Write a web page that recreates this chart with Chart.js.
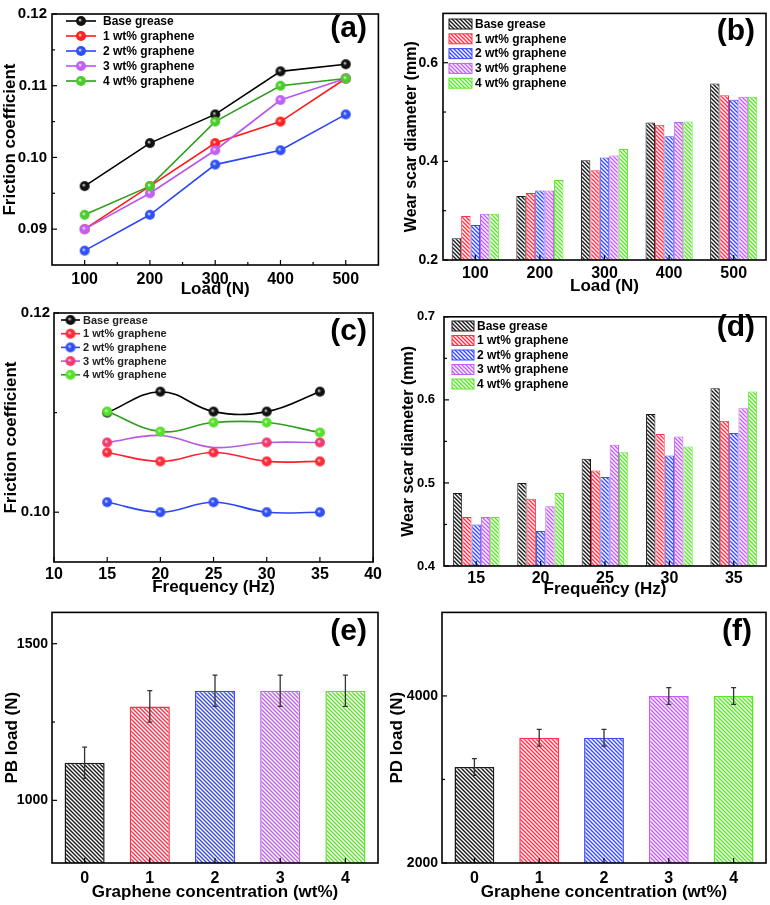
<!DOCTYPE html>
<html>
<head>
<meta charset="utf-8">
<title>Graphene grease tribology</title>
<script src="https://cdn.jsdelivr.net/npm/chart.js@4.4.1/dist/chart.umd.min.js"></script>
<style>
  body { margin: 0; background: #fff; }
  #fig { position: relative; width: 770px; height: 905px; overflow: hidden; }
  #fig canvas { position: absolute; }
</style>
</head>
<body>
<div id="fig">
  <canvas id="ca" width="385" height="300" style="left:0;top:0"></canvas>
  <canvas id="cb" width="385" height="300" style="left:385px;top:0"></canvas>
  <canvas id="cc" width="385" height="300" style="left:0;top:300px"></canvas>
  <canvas id="cd" width="385" height="300" style="left:385px;top:300px"></canvas>
  <canvas id="ce" width="385" height="305" style="left:0;top:600px"></canvas>
  <canvas id="cf" width="385" height="305" style="left:385px;top:600px"></canvas>
</div>
<script>
// ---- data ----
const seriesNames = ['Base grease', '1 wt% graphene', '2 wt% graphene', '3 wt% graphene', '4 wt% graphene'];
const loads = [100, 200, 300, 400, 500];
const freqs = [15, 20, 25, 30, 35];
const concentrations = ['0', '1', '2', '3', '4'];

// (a) friction coefficient vs load
const cofLoad = [
  [0.096, 0.102, 0.106, 0.112, 0.113],
  [0.090, 0.096, 0.102, 0.105, 0.111],
  [0.087, 0.092, 0.099, 0.101, 0.106],
  [0.090, 0.095, 0.101, 0.108, 0.111],
  [0.092, 0.096, 0.105, 0.110, 0.111]
];
// (b) wear scar diameter vs load
const wsdLoad = [
  [0.244, 0.330, 0.402, 0.479, 0.558],
  [0.289, 0.336, 0.382, 0.474, 0.534],
  [0.271, 0.341, 0.408, 0.451, 0.525],
  [0.294, 0.341, 0.412, 0.480, 0.531],
  [0.294, 0.362, 0.425, 0.481, 0.531]
];
// (c) friction coefficient vs frequency
const cofFreq = [
  [0.1100, 0.1121, 0.1101, 0.1101, 0.1121],
  [0.1060, 0.1051, 0.1060, 0.1051, 0.1051],
  [0.1010, 0.1000, 0.1010, 0.1000, 0.1000],
  [0.1070, 0.1077, 0.1065, 0.1070, 0.1070],
  [0.1101, 0.1081, 0.1090, 0.1090, 0.1080]
];
// (d) wear scar diameter vs frequency
const wsdFreq = [
  [0.488, 0.500, 0.529, 0.583, 0.614],
  [0.459, 0.481, 0.515, 0.559, 0.575],
  [0.450, 0.442, 0.507, 0.533, 0.560],
  [0.459, 0.472, 0.546, 0.556, 0.590],
  [0.459, 0.488, 0.537, 0.544, 0.610]
];
// (e) PB load and (f) PD load vs graphene concentration
const pbLoad = [1120, 1300, 1350, 1350, 1350];
const pbErr = [50, 50, 50, 50, 50];
const pdLoad = [3150, 3500, 3500, 4000, 4000];
const pdErr = [100, 100, 100, 100, 100];

// tick values
const aXTicks = [100, 200, 300, 400, 500];
const aYTicks = [0.09, 0.10, 0.11, 0.12];
const bYTicks = [0.2, 0.4, 0.6];
const cXTicks = [10, 15, 20, 25, 30, 35, 40];
const cYTicks = [0.10, 0.12];
const dYTicks = [0.4, 0.5, 0.6, 0.7];
const eYTicks = [1000, 1500];
const fYTicks = [2000, 4000];

// ---- styling ----
const FONT = '"Liberation Sans", Arial, sans-serif';
const lineA = ['#000000', '#ff1a1a', '#2d46f5', '#b855ee', '#2f9e1f'];
const markA = ['#111111', '#ff2020', '#3050f5', '#c060f5', '#4ccc2a'];
const lineC = ['#000000', '#ff2030', '#2d46f5', '#b45be0', '#2f9e1f'];
const markC = ['#111111', '#ff2a3a', '#3050f5', '#f03a70', '#55e02a'];
const barColors = ['#1a1a1a', '#ff3049', '#3a4cf0', '#c35ef0', '#5ce62a'];

function ball(color, r) {
  const c = document.createElement('canvas');
  c.width = c.height = 2 * r + 2;
  const g = c.getContext('2d');
  const m = r + 1;
  const grad = g.createRadialGradient(m - r * 0.25, m - r * 0.25, 0, m, m, r);
  grad.addColorStop(0, '#ffffff');
  grad.addColorStop(0.4, color);
  grad.addColorStop(1, color);
  g.fillStyle = grad;
  g.beginPath();
  g.arc(m, m, r, 0, Math.PI * 2);
  g.fill();
  return c;
}

function hatch(color) {
  const s = 4;
  const c = document.createElement('canvas');
  c.width = c.height = s;
  const g = c.getContext('2d');
  g.fillStyle = '#fff';
  g.fillRect(0, 0, s, s);
  g.strokeStyle = color;
  g.lineWidth = 1.4;
  g.beginPath();
  g.moveTo(-1, -1); g.lineTo(s + 1, s + 1);
  g.moveTo(-1, s - 1); g.lineTo(1, s + 1);
  g.moveTo(s - 1, -1); g.lineTo(s + 1, 1);
  g.stroke();
  return g.createPattern(c, 'repeat');
}

// ---- plugins ----
const frame = {
  id: 'frame',
  afterDraw(chart, args, o) {
    const { ctx, chartArea: a } = chart;
    ctx.save();
    ctx.strokeStyle = '#000';
    ctx.lineWidth = 1.2;
    const draw = (scale, horiz, minor) => {
      const px = scale.ticks.map((t, i) => scale.getPixelForTick(i));
      const mk = (p, len) => {
        ctx.beginPath();
        if (horiz) { ctx.moveTo(p, a.bottom); ctx.lineTo(p, a.bottom - len); }
        else { ctx.moveTo(a.left, p); ctx.lineTo(a.left + len, p); }
        ctx.stroke();
      };
      px.forEach(p => mk(p, 5));
      if (minor) for (let i = 0; i + 1 < px.length; i++) mk((px[i] + px[i + 1]) / 2, 3);
    };
    draw(chart.scales.x, true, o.xMinor);
    draw(chart.scales.y, false, o.yMinor);
    ctx.lineWidth = 1.6;
    ctx.strokeRect(a.left, a.top, a.right - a.left, a.bottom - a.top);
    ctx.restore();
  }
};

const insideLegend = {
  id: 'insideLegend',
  afterDraw(chart, args, o) {
    if (!o.kind) return;
    const ctx = chart.ctx;
    ctx.save();
    ctx.font = 'bold ' + o.size + 'px ' + FONT;
    ctx.textBaseline = 'middle';
    chart.data.datasets.forEach((ds, i) => {
      const y = o.y + i * o.step;
      if (o.kind === 'line') {
        ctx.strokeStyle = ds.borderColor;
        ctx.lineWidth = 1.6;
        ctx.beginPath(); ctx.moveTo(o.x, y); ctx.lineTo(o.x + o.w, y); ctx.stroke();
        const img = ds.pointStyle;
        ctx.drawImage(img, o.x + o.w / 2 - img.width / 2, y - img.height / 2);
      } else {
        ctx.fillStyle = ds.backgroundColor;
        ctx.fillRect(o.x, y - o.h / 2, o.w, o.h);
        ctx.strokeStyle = ds.borderColor;
        ctx.lineWidth = 1;
        ctx.strokeRect(o.x, y - o.h / 2, o.w, o.h);
      }
      ctx.fillStyle = o.color || '#000';
      ctx.fillText(ds.label, o.x + o.w + o.gap, y + 0.5);
    });
    ctx.restore();
  }
};

const panelTag = {
  id: 'panelTag',
  afterDraw(chart, args, o) {
    if (!o.text) return;
    const ctx = chart.ctx;
    ctx.save();
    ctx.font = 'bold 30px ' + FONT;
    ctx.fillStyle = '#000';
    ctx.textAlign = 'right';
    ctx.textBaseline = 'middle';
    ctx.fillText(o.text, o.x, o.y);
    ctx.restore();
  }
};

const errorBars = {
  id: 'errorBars',
  afterDatasetsDraw(chart, args, o) {
    if (!o.errors) return;
    const ctx = chart.ctx;
    const ys = chart.scales.y;
    const vals = chart.data.datasets[0].data;
    ctx.save();
    ctx.strokeStyle = '#333';
    ctx.lineWidth = 1.3;
    chart.getDatasetMeta(0).data.forEach((bar, i) => {
      const t = ys.getPixelForValue(vals[i] + o.errors[i]);
      const b = ys.getPixelForValue(vals[i] - o.errors[i]);
      ctx.beginPath();
      ctx.moveTo(bar.x, t); ctx.lineTo(bar.x, b);
      ctx.moveTo(bar.x - 2.5, t); ctx.lineTo(bar.x + 2.5, t);
      ctx.moveTo(bar.x - 2.5, b); ctx.lineTo(bar.x + 2.5, b);
      ctx.stroke();
    });
    ctx.restore();
  }
};

// ---- axis helpers ----
function yAxis(L, min, max, ticks, digits, title) {
  return {
    position: 'left', min: min, max: max,
    afterFit: s => { s.width = L.yW; },
    afterBuildTicks: s => { s.ticks = ticks.map(v => ({ value: v })); },
    grid: { display: false, drawTicks: false },
    border: { display: false },
    ticks: {
      color: '#000', padding: L.yTickPad,
      font: { family: FONT, weight: 'bold', size: L.yTickSize },
      callback: v => v.toFixed(digits)
    },
    title: {
      display: true, text: title, color: '#000',
      font: { family: FONT, weight: 'bold', size: L.yTitleSize || 17 },
      padding: { top: L.yTitlePad, bottom: 0 }
    }
  };
}

function xAxis(L, title, extra) {
  return Object.assign({
    position: 'bottom',
    afterFit: s => { s.height = L.xH; },
    grid: { display: false, drawTicks: false },
    border: { display: false },
    ticks: {
      color: '#000', padding: L.xTickPad, autoSkip: false, maxRotation: 0,
      font: { family: FONT, weight: 'bold', size: 16 }
    },
    title: {
      display: true, text: title, color: '#000',
      font: { family: FONT, weight: 'bold', size: 17 },
      padding: { top: 0, bottom: L.xTitlePad }
    }
  }, extra || {});
}

function baseOptions(L) {
  return {
    responsive: false,
    animation: false,
    layout: { padding: { left: 0, top: L.top, right: L.right, bottom: 0 } },
    plugins: { legend: { display: false }, tooltip: { enabled: false } }
  };
}

const allPlugins = [frame, insideLegend, panelTag, errorBars];

// ---- (a) ----
(function () {
  const L = { top: 5, right: 5, yW: 52, xH: 35, yTickPad: 5, yTickSize: 15, yTitlePad: 0, xTickPad: 5, xTitlePad: 0 };
  const opts = baseOptions(L);
  opts.scales = {
    x: xAxis(L, 'Load (N)', {
      type: 'linear', min: 50, max: 550,
      afterBuildTicks: s => { s.ticks = aXTicks.map(v => ({ value: v })); }
    }),
    y: yAxis(L, 0.085, 0.12, aYTicks, 2, 'Friction coefficient')
  };
  opts.scales.x.ticks.callback = v => String(v);
  Object.assign(opts.plugins, {
    frame: { xMinor: true, yMinor: true },
    insideLegend: { kind: 'line', x: 66, y: 21, step: 15, w: 30, gap: 7, size: 12 },
    panelTag: { text: '(a)', x: 367, y: 29 }
  });
  new Chart(document.getElementById('ca'), {
    type: 'line',
    data: {
      datasets: cofLoad.map((vals, i) => ({
        label: seriesNames[i],
        data: loads.map((x, j) => ({ x: x, y: vals[j] })),
        borderColor: lineA[i], borderWidth: 1.6,
        pointStyle: ball(markA[i], 5), pointRadius: 5,
        tension: 0, order: 4 - i
      }))
    },
    options: opts,
    plugins: allPlugins
  });
})();

// ---- (b) ----
(function () {
  const L = { top: 5, right: 4, yW: 58, xH: 40, yTickPad: 5, yTickSize: 14, yTitlePad: 17, yTitleSize: 16, xTickPad: 4, xTitlePad: 3 };
  const opts = baseOptions(L);
  opts.scales = {
    x: xAxis(L, 'Load (N)'),
    y: yAxis(L, 0.2, 0.7, bYTicks, 1, 'Wear scar diameter (mm)')
  };
  Object.assign(opts.plugins, {
    frame: { xMinor: false, yMinor: true },
    insideLegend: { kind: 'bar', x: 64, y: 24, step: 14.8, w: 23, h: 10, gap: 3, size: 12 },
    panelTag: { text: '(b)', x: 370, y: 32 }
  });
  new Chart(document.getElementById('cb'), {
    type: 'bar',
    data: {
      labels: loads.map(String),
      datasets: wsdLoad.map((vals, i) => ({
        label: seriesNames[i], data: vals,
        backgroundColor: hatch(barColors[i]), borderColor: barColors[i], borderWidth: 1,
        categoryPercentage: 0.73, barPercentage: 1
      }))
    },
    options: opts,
    plugins: allPlugins
  });
})();

// ---- (c) ----
(function () {
  const L = { top: 10, right: 9, yW: 54, xH: 38, yTickPad: 4, yTickSize: 15, yTitlePad: 1, xTickPad: 3, xTitlePad: 2 };
  const opts = baseOptions(L);
  opts.scales = {
    x: xAxis(L, 'Frequency (Hz)', {
      type: 'linear', min: 10, max: 40,
      afterBuildTicks: s => { s.ticks = cXTicks.map(v => ({ value: v })); }
    }),
    y: yAxis(L, 0.095, 0.12, cYTicks, 2, 'Friction coefficient')
  };
  opts.scales.x.ticks.callback = v => String(v);
  Object.assign(opts.plugins, {
    frame: { xMinor: false, yMinor: true },
    insideLegend: { kind: 'line', x: 61, y: 20, step: 13.7, w: 19, gap: 3, size: 11, color: '#222' },
    panelTag: { text: '(c)', x: 367, y: 32 }
  });
  new Chart(document.getElementById('cc'), {
    type: 'line',
    data: {
      datasets: cofFreq.map((vals, i) => ({
        label: seriesNames[i],
        data: freqs.map((x, j) => ({ x: x, y: vals[j] })),
        borderColor: lineC[i], borderWidth: 1.6,
        pointStyle: ball(markC[i], 5),
        pointRadius: i === 3 ? [5, 0, 0, 5, 5] : 5,
        tension: 0.4, order: 4 - i
      }))
    },
    options: opts,
    plugins: allPlugins
  });
})();

// ---- (d) ----
(function () {
  const L = { top: 13, right: 4, yW: 59, xH: 34, yTickPad: 9, yTickSize: 13, yTitlePad: 14, yTitleSize: 16, xTickPad: 3, xTitlePad: 0 };
  const opts = baseOptions(L);
  opts.scales = {
    x: xAxis(L, 'Frequency (Hz)'),
    y: yAxis(L, 0.4, 0.7, dYTicks, 1, 'Wear scar diameter (mm)')
  };
  Object.assign(opts.plugins, {
    frame: { xMinor: false, yMinor: true },
    insideLegend: { kind: 'bar', x: 67, y: 26, step: 14.5, w: 22, h: 10, gap: 3, size: 12 },
    panelTag: { text: '(d)', x: 370, y: 28 }
  });
  new Chart(document.getElementById('cd'), {
    type: 'bar',
    data: {
      labels: freqs.map(String),
      datasets: wsdFreq.map((vals, i) => ({
        label: seriesNames[i], data: vals,
        backgroundColor: hatch(barColors[i]), borderColor: barColors[i], borderWidth: 1,
        categoryPercentage: 0.725, barPercentage: 1
      }))
    },
    options: opts,
    plugins: allPlugins
  });
})();

// ---- (e) and (f) ----
function loadBars(id, L, values, errors, min, max, ticks, title, tag) {
  const opts = baseOptions(L);
  opts.scales = {
    x: xAxis(L, 'Graphene concentration (wt%)'),
    y: yAxis(L, min, max, ticks, 0, title)
  };
  Object.assign(opts.plugins, {
    frame: { xMinor: false, yMinor: true },
    errorBars: { errors: errors },
    panelTag: { text: tag, x: 367, y: 32 }
  });
  new Chart(document.getElementById(id), {
    type: 'bar',
    data: {
      labels: concentrations,
      datasets: [{
        label: title, data: values,
        backgroundColor: barColors.map(hatch), borderColor: barColors, borderWidth: 1.5,
        categoryPercentage: 1, barPercentage: 0.615
      }]
    },
    options: opts,
    plugins: allPlugins
  });
}

loadBars('ce', { top: 6, right: 7, yW: 52, xH: 42, yTickPad: 4, yTickSize: 14, yTitlePad: 2, xTickPad: 6, xTitlePad: 2 },
  pbLoad, pbErr, 800, 1600, eYTicks, 'PB load (N)', '(e)');
loadBars('cf', { top: 8, right: 4, yW: 57, xH: 42, yTickPad: 4, yTickSize: 14, yTitlePad: 2, xTickPad: 6, xTitlePad: 2 },
  pdLoad, pdErr, 2000, 5000, fYTicks, 'PD load (N)', '(f)');
</script>
</body>
</html>
